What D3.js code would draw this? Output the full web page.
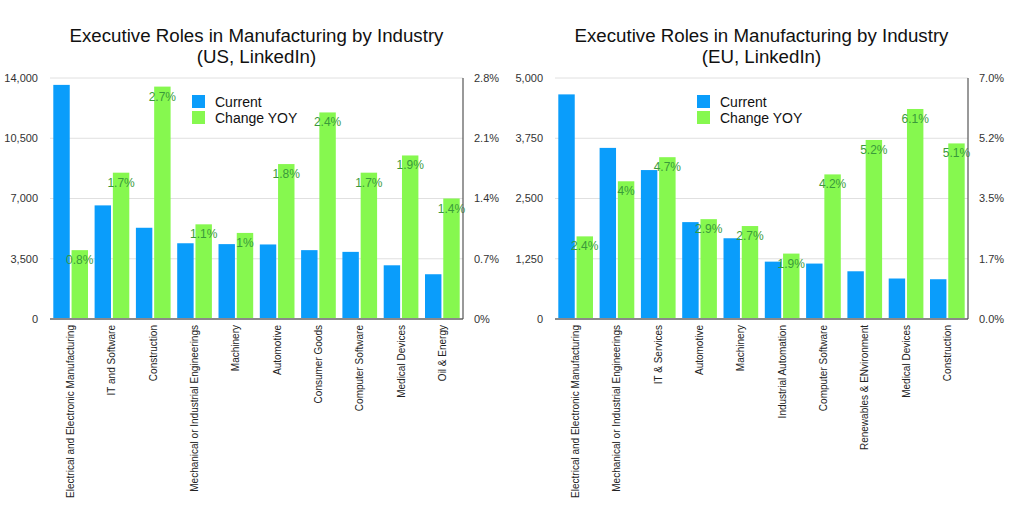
<!DOCTYPE html>
<html>

<head>
    <meta charset="utf-8">
    <title>Executive Roles in Manufacturing by Industry</title>
    <script src="https://d3js.org/d3.v7.min.js"></script>
    <style>
        body {
            margin: 0;
            background: #fff;
            font-family: "Liberation Sans", Arial, Helvetica, sans-serif;
        }

        .grid line {
            stroke: #e0e0e0;
            stroke-width: 1px;
        }

        .tick-label {
            font-size: 11px;
            fill: #333;
        }

        .cat-label {
            font-size: 10px;
            fill: #222;
        }

        .value-label {
            font-size: 12px;
            fill: #3a9a3a;
            text-anchor: middle;
        }
    </style>
</head>

<body>
    <div id="chart"></div>

    <script>
        // US data
        const usCategories = ["Electrical and Electronic Manufacturing", "IT and Software", "Construction",
            "Mechanical or Industrial Engineerings", "Machinery", "Automotive", "Consumer Goods",
            "Computer Software", "Medical Devices", "Oil & Energy"];
        const usCurrent = [13600, 6600, 5300, 4400, 4350, 4330, 4000, 3900, 3120, 2600];
        const usChange = [0.8, 1.7, 2.7, 1.1, 1, 1.8, 2.4, 1.7, 1.9, 1.4];
        const usLeftTicks = [0, 3500, 7000, 10500, 14000];
        const usRightTicks = [0, 0.7, 1.4, 2.1, 2.8];
        const usRightTickLabels = ["0%", "0.7%", "1.4%", "2.1%", "2.8%"];

        // EU data
        const euCategories = ["Electrical and Electronic Manufacturing", "Mechanical or Industrial Engineerings",
            "IT & Services", "Automotive", "Machinery", "Industrial Automation", "Computer Software",
            "Renewables & ENvironment", "Medical Devices", "Construction"];
        const euCurrent = [4660, 3550, 3090, 2010, 1675, 1190, 1150, 990, 840, 825];
        const euChange = [2.4, 4, 4.7, 2.9, 2.7, 1.9, 4.2, 5.2, 6.1, 5.1];
        const euLeftTicks = [0, 1250, 2500, 3750, 5000];
        const euRightTicks = [0, 1.75, 3.5, 5.25, 7];
        const euRightTickLabels = ["0.0%", "1.7%", "3.5%", "5.2%", "7.0%"];

        const blue = "#0a9dfb";
        const green = "#86f84f";

        const svg = d3.select("#chart")
            .append("svg")
            .attr("width", 1024)
            .attr("height", 512);

        function drawChart(opts) {
            const { left, right, top, bottom, title, categories, current, change,
                leftTicks, rightTicks, rightTickLabels } = opts;
            const width = right - left;

            const g = svg.append("g").attr("transform", `translate(${left},0)`);

            const x0 = d3.scaleBand()
                .domain(categories)
                .range([0, width])
                .paddingInner(0.16)
                .paddingOuter(0.08);

            const x1 = d3.scaleBand()
                .domain(["current", "change"])
                .range([0, x0.bandwidth()])
                .paddingInner(0.1);

            const yLeft = d3.scaleLinear()
                .domain([0, d3.max(leftTicks)])
                .range([bottom, top]);

            const yRight = d3.scaleLinear()
                .domain([0, d3.max(rightTicks)])
                .range([bottom, top]);

            // Title
            const t = g.append("text")
                .attr("x", width / 2)
                .attr("text-anchor", "middle")
                .style("font-size", "18.7px")
                .style("fill", "#111");
            t.append("tspan").attr("x", width / 2).attr("y", 42).text(title[0]);
            t.append("tspan").attr("x", width / 2).attr("y", 63).text(title[1]);

            // Gridlines
            g.append("g")
                .attr("class", "grid")
                .selectAll("line")
                .data(leftTicks.slice(1))
                .join("line")
                .attr("x1", 0)
                .attr("x2", width)
                .attr("y1", d => yLeft(d))
                .attr("y2", d => yLeft(d));

            // Left axis labels
            g.append("g")
                .selectAll("text")
                .data(leftTicks)
                .join("text")
                .attr("class", "tick-label")
                .attr("x", -12)
                .attr("y", d => yLeft(d))
                .attr("dy", "0.35em")
                .attr("text-anchor", "end")
                .text(d => d3.format(",")(d));

            // Right axis labels
            g.append("g")
                .selectAll("text")
                .data(rightTicks)
                .join("text")
                .attr("class", "tick-label")
                .attr("x", width + 11)
                .attr("y", d => yRight(d))
                .attr("dy", "0.35em")
                .attr("text-anchor", "start")
                .text((d, i) => rightTickLabels[i]);

            // Bars
            const groups = g.append("g")
                .selectAll("g")
                .data(categories)
                .join("g")
                .attr("transform", d => `translate(${x0(d)},0)`);

            groups.append("rect")
                .attr("x", x1("current"))
                .attr("width", x1.bandwidth())
                .attr("y", (d, i) => yLeft(current[i]))
                .attr("height", (d, i) => bottom - yLeft(current[i]))
                .attr("fill", blue);

            groups.append("rect")
                .attr("x", x1("change"))
                .attr("width", x1.bandwidth())
                .attr("y", (d, i) => yRight(change[i]))
                .attr("height", (d, i) => bottom - yRight(change[i]))
                .attr("fill", green);

            groups.append("text")
                .attr("class", "value-label")
                .attr("x", x1("change") + x1.bandwidth() / 2)
                .attr("y", (d, i) => yRight(change[i]) + 14)
                .text((d, i) => change[i] + "%");

            // Baseline and right axis line
            g.append("line")
                .attr("x1", 0).attr("x2", width)
                .attr("y1", bottom).attr("y2", bottom)
                .attr("stroke", "#8a8a8a")
                .attr("stroke-width", 2);

            g.append("line")
                .attr("x1", width).attr("x2", width)
                .attr("y1", top).attr("y2", bottom)
                .attr("stroke", "#555")
                .attr("stroke-width", 1.2);

            // Category labels
            groups.append("text")
                .attr("class", "cat-label")
                .attr("transform", `translate(${x0.bandwidth() / 2},${bottom + 6}) rotate(-90)`)
                .attr("text-anchor", "end")
                .attr("dy", "0.35em")
                .text(d => d);

            // Legend
            const legend = g.append("g").attr("transform", "translate(142,95)");
            const items = [["Current", blue], ["Change YOY", green]];
            items.forEach(([name, color], i) => {
                legend.append("rect")
                    .attr("x", 0)
                    .attr("y", i * 16)
                    .attr("width", 13)
                    .attr("height", 13)
                    .attr("fill", color);
                legend.append("text")
                    .attr("x", 23)
                    .attr("y", i * 16 + 11.5)
                    .style("font-size", "14px")
                    .style("fill", "#111")
                    .text(name);
            });
        }

        drawChart({
            left: 50, right: 463, top: 78, bottom: 319,
            title: ["Executive Roles in Manufacturing by Industry", "(US, LinkedIn)"],
            categories: usCategories, current: usCurrent, change: usChange,
            leftTicks: usLeftTicks, rightTicks: usRightTicks, rightTickLabels: usRightTickLabels
        });

        drawChart({
            left: 555, right: 968, top: 78, bottom: 319,
            title: ["Executive Roles in Manufacturing by Industry", "(EU, LinkedIn)"],
            categories: euCategories, current: euCurrent, change: euChange,
            leftTicks: euLeftTicks, rightTicks: euRightTicks, rightTickLabels: euRightTickLabels
        });
    </script>
</body>

</html>
